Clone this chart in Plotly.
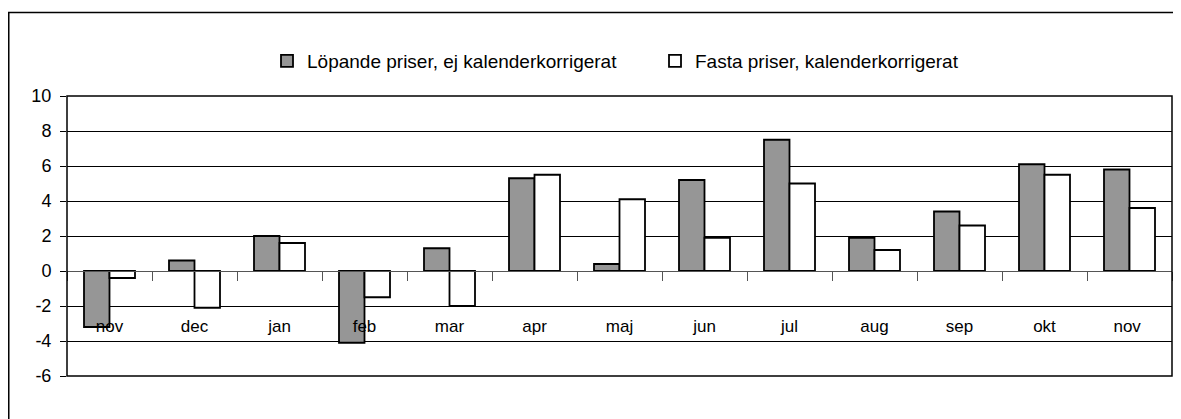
import plotly.graph_objects as go

months = ["nov", "dec", "jan", "feb", "mar", "apr", "maj", "jun", "jul", "aug", "sep", "okt", "nov "]
lopande = [-3.2, 0.6, 2.0, -4.1, 1.3, 5.3, 0.4, 5.2, 7.5, 1.9, 3.4, 6.1, 5.8]
fasta = [-0.4, -2.1, 1.6, -1.5, -2.0, 5.5, 4.1, 1.9, 5.0, 1.2, 2.6, 5.5, 3.6]
series_names = ["Löpande priser, ej kalenderkorrigerat", "Fasta priser, kalenderkorrigerat"]
y_ticks = [-6, -4, -2, 0, 2, 4, 6, 8, 10]
y_tick_labels = ["-6", "-4", "-2", "0", "2", "4", "6", "8", "10"]

fig = go.Figure()
fig.add_trace(go.Bar(x=months, y=lopande, name=series_names[0],
                     marker=dict(color="#969696", line=dict(color="black", width=1.8))))
fig.add_trace(go.Bar(x=months, y=fasta, name=series_names[1],
                     marker=dict(color="white", line=dict(color="black", width=1.8))))

font = "Liberation Sans, Arial, sans-serif"
fig.update_layout(
    width=1173, height=411,
    margin=dict(l=59, r=9, t=88, b=43, autoexpand=False),
    paper_bgcolor="white", plot_bgcolor="white",
    barmode="group", bargap=0.4, bargroupgap=0,
    font=dict(family=font, size=16, color="black"),
    showlegend=True,
    legend=dict(orientation="h", x=0.181, xanchor="left", y=1.125, yanchor="middle",
                font=dict(size=19, family=font), entrywidth=343, entrywidthmode="pixels",
                bgcolor="rgba(0,0,0,0)"),
    xaxis=dict(anchor="free", position=0.375, showline=True, linecolor="#555", linewidth=1,
               ticks="outside", ticklen=9, tickcolor="#555", tickson="boundaries",
               ticklabelstandoff=40, showgrid=False, zeroline=False, automargin=False,
               tickfont=dict(size=17, family=font)),
    yaxis=dict(range=[-6, 10], tickvals=y_ticks, ticktext=y_tick_labels,
               showgrid=True, gridcolor="black", gridwidth=1, automargin=False,
               zeroline=False, showline=False, ticks="outside", ticklen=6, tickcolor="black",
               ticklabelstandoff=5, tickfont=dict(size=18, family=font)),
    shapes=[
        dict(type="rect", xref="paper", yref="paper", x0=0, x1=1, y0=0, y1=1,
             line=dict(color="black", width=1.5), layer="above"),
        dict(type="rect", xref="paper", yref="paper", x0=-0.0527, x1=1.02, y0=-0.2, y1=1.298,
             line=dict(color="black", width=1.5)),
    ],
)

fig.write_html("out.html")
